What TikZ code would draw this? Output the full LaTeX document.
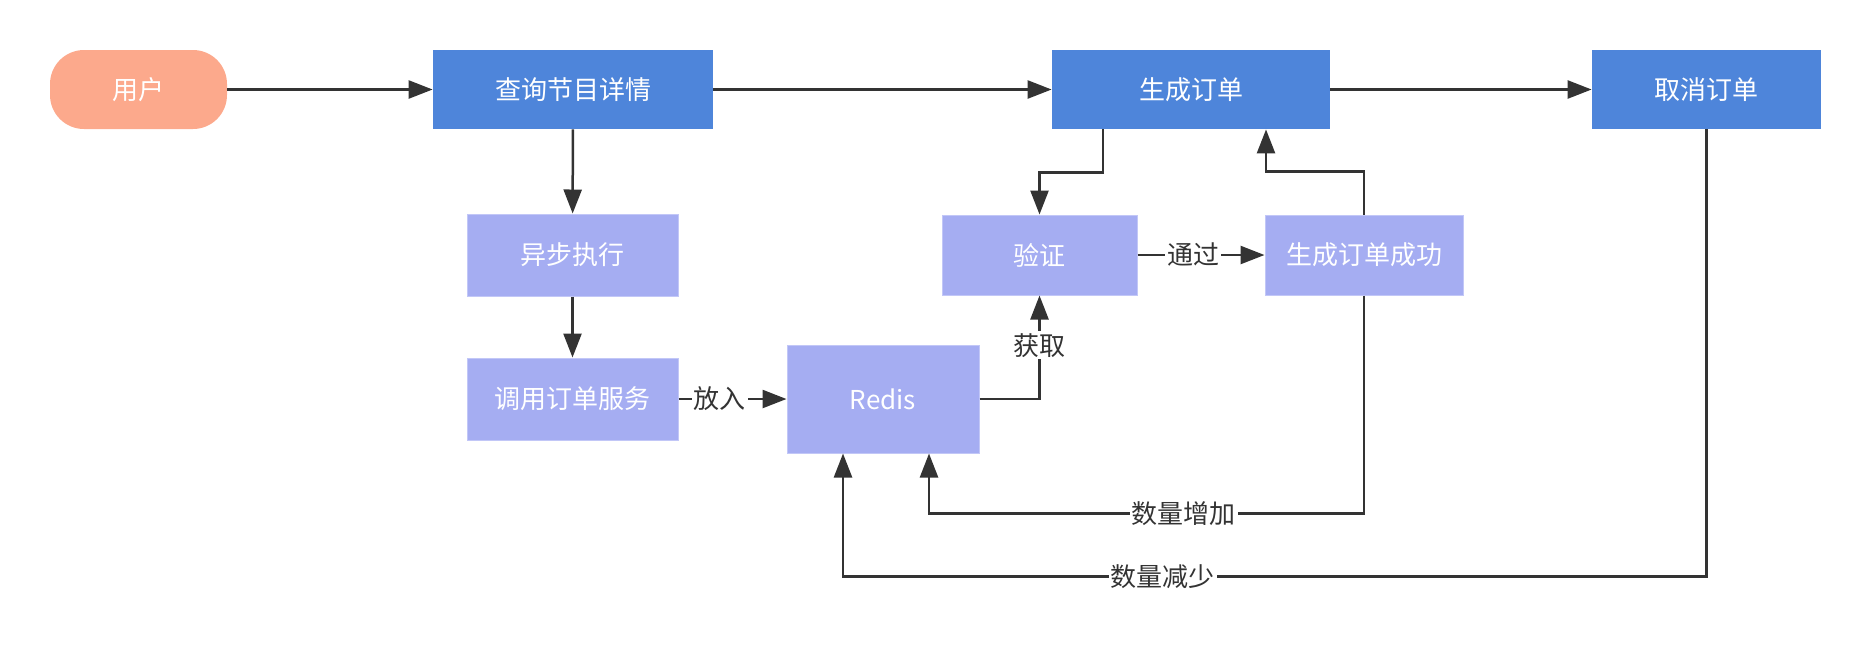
\documentclass[tikz,border=0pt]{standalone}
\usepackage{fontspec}
\setmainfont{Noto Sans CJK SC}
\usetikzlibrary{arrows.meta}
\definecolor{userfill}{HTML}{FCA98C}
\definecolor{bluefill}{HTML}{4E85DA}
\definecolor{lightfill}{HTML}{A5ADF2}
\definecolor{lightline}{HTML}{C2C7F7}
\definecolor{linecol}{HTML}{333333}
\begin{document}
\begin{tikzpicture}[x=0.5pt,y=-0.5pt,
  every node/.style={font=\fontsize{13pt}{15pt}\selectfont},
  base/.style={inner sep=0pt, text=white, anchor=center},
  userbox/.style={base, fill=userfill, rounded corners=17pt, minimum width=88.5pt, minimum height=39.5pt},
  bluebox/.style={base, fill=bluefill, minimum height=39.5pt},
  lightbox/.style={base, fill=lightfill, draw=lightline, line width=0.5pt},
  conn/.style={draw=linecol, line width=1.25pt, -{Triangle[length=12pt,width=9pt]}},
  lab/.style={fill=white, text=linecol, inner sep=1pt}
]
\useasboundingbox (0,0) rectangle (1871,644);

\node[userbox] (user) at (138.5,89.5) {用户};
\node[bluebox, minimum width=140pt] (query) at (573,89.5) {查询节目详情};
\node[bluebox, minimum width=139pt] (gen) at (1191,89.5) {生成订单};
\node[bluebox, minimum width=114.5pt] (cancel) at (1706.5,89.5) {取消订单};
\node[lightbox, minimum width=105.5pt, minimum height=41pt] (async) at (572.5,255) {异步执行};
\node[lightbox, minimum width=105.5pt, minimum height=41pt] (call) at (572.5,399) {调用订单服务};
\node[lightbox, minimum width=96pt, minimum height=54pt] (redis) at (883,399) {Redis};
\node[lightbox, minimum width=97.5pt, minimum height=40pt] (verify) at (1039.5,255) {验证};
\node[lightbox, minimum width=99pt, minimum height=40pt] (success) at (1364,255) {生成订单成功};

\draw[conn] (user) -- (query);
\draw[conn] (query) -- (gen);
\draw[conn] (gen) -- (cancel);
\draw[conn] (query) -- (async);
\draw[conn] (async) -- (call);
\draw[conn] (call) -- node[lab,pos=0.38]{放入} (redis);
\draw[conn] (redis.east) -| node[lab,pos=0.76]{获取} (verify.south);
\draw[conn] ([xshift=-44pt]gen.south) -- ++(0,43) -| (verify.north);
\draw[conn] (verify) -- node[lab,pos=0.44]{通过} (success);
\draw[conn] (success.north) -- ++(0,-43) -| ([xshift=37.5pt]gen.south);
\draw[conn] (success.south) -- ++(0,218) -| node[lab,pos=0.207]{数量增加} ([xshift=23pt]redis.south);
\draw[conn] (cancel.south) -- ++(0,447) -| node[lab,pos=0.315]{数量减少} ([xshift=-20pt]redis.south);
\end{tikzpicture}
\end{document}
